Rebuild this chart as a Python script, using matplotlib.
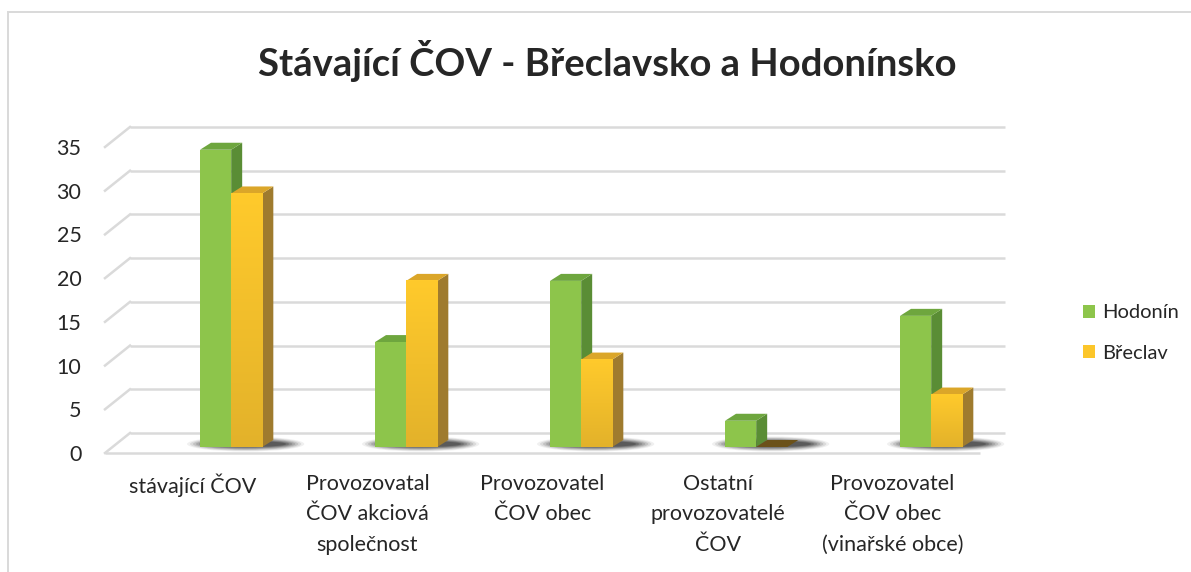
import matplotlib
matplotlib.use("Agg")
import matplotlib.pyplot as plt
import numpy as np
from matplotlib.patches import Polygon, Rectangle, Patch, Ellipse
import matplotlib.transforms as mtransforms

# ---------------- data ----------------
categories = ["stávající ČOV",
              "Provozovatal\nČOV akciová\nspolečnost",
              "Provozovatel\nČOV obec",
              "Ostatní\nprovozovatelé\nČOV",
              "Provozovatel\nČOV obec\n(vinařské obce)"]
series_names = ["Hodonín", "Břeclav"]
hodonin = [34, 12, 19, 3, 15]
breclav = [29, 19, 10, 0, 6]
yticks = [0, 5, 10, 15, 20, 25, 30, 35]
title = "Stávající ČOV - Břeclavsko a Hodonínsko"

# ---------------- style ----------------
FONT = ["Lato", "DejaVu Sans"]
plt.rcParams['font.family'] = FONT
W, H = 1191, 572
DPI = 100
TXT = "#262626"
GRID = "#dadada"
green_front, green_top, green_side = "#8dc54b", "#6ea63e", "#5a8d35"
yel_top_c, yel_bot_c = "#ffca2c", "#e3b22a"
yel_top, yel_side = "#dba629", "#9f7b2e"
zero_brown = "#6b5119"

fig = plt.figure(figsize=(W / DPI, H / DPI), dpi=DPI)
fig.patch.set_facecolor("white")

ax = fig.add_axes([105 / W, (H - 453) / H, 875 / W, 306 / H])
ax.set_facecolor("none")
ax.set_xlim(-0.5, 4.5)
ax.set_ylim(0, 35)
for s in ax.spines.values():
    s.set_visible(False)
ax.set_yticks(yticks)
ax.set_yticklabels([str(v) for v in yticks])
x = np.arange(len(categories))
ax.set_xticks(x)
ax.set_xticklabels(categories, linespacing=1.66)
ax.tick_params(axis='y', length=0, pad=17, labelsize=15.5, labelcolor=TXT)
ax.tick_params(axis='x', length=0, pad=15, labelsize=15.5, labelcolor=TXT)

px = 1.0 / DPI  # inch per pixel
back_off = mtransforms.ScaledTranslation(25 * px, 20 * px, fig.dpi_scale_trans)
bar_off = mtransforms.ScaledTranslation(0, 6 * px, fig.dpi_scale_trans)
DX, DY = 11, 7  # bar depth in pixels


def disp(xv, yv, dx=0.0, dy=0.0):
    p = ax.transData.transform((xv, yv))
    return (p[0] + dx, p[1] + dy)


def add_poly(verts, color, z, alpha=1.0):
    poly = Polygon(verts, closed=True, facecolor=color, edgecolor="none",
                   transform=mtransforms.IdentityTransform(), zorder=z,
                   alpha=alpha, clip_on=False)
    ax.add_artist(poly)


# ---------------- walls / gridlines ----------------
for v in yticks:
    ax.plot([-0.5, 4.5], [v, v], color=GRID, lw=1.8,
            transform=ax.transData + back_off, zorder=1, clip_on=False,
            solid_capstyle='butt')
    a = disp(-0.5, v)
    b = disp(-0.5, v, 25, 20)
    ax.add_artist(plt.Line2D([a[0], b[0]], [a[1], b[1]], color=GRID, lw=1.8,
                             transform=mtransforms.IdentityTransform(),
                             zorder=1, clip_on=False))
ax.plot([-0.5, 4.5], [0, 0], color=GRID, lw=1.8, zorder=1, clip_on=False,
        solid_capstyle='butt')

# ---------------- bars ----------------
bw = 0.178
g_left = x + 0.043
y_left = g_left + bw

# soft shadows on the floor, cast to the right/back
for i in range(len(categories)):
    p0 = disp(g_left[i], 0, 0, 6)
    p1 = disp(y_left[i] + bw, 0, DX, 6)
    wid = p1[0] - p0[0]
    cxm = (p0[0] + p1[0]) / 2 + 9
    for k in range(7):
        e = Ellipse((cxm, p0[1] + 3), wid + 44 - 6 * k, 15 - 1.5 * k,
                    transform=mtransforms.IdentityTransform(),
                    facecolor="black", edgecolor="none", alpha=0.06 + 0.025 * k,
                    zorder=2, clip_on=False)
        ax.add_artist(e)


def draw_box(x0, h, front_color, top_c, side_c, grad=None):
    tr = ax.transData + bar_off
    x1 = x0 + bw
    bl = disp(x0, 0, 0, 6); br = disp(x1, 0, 0, 6)
    tl = disp(x0, h, 0, 6); trr = disp(x1, h, 0, 6)
    if h > 0:
        add_poly([br, trr, (trr[0] + DX, trr[1] + DY), (br[0] + DX, br[1] + DY)], side_c, 3)
        add_poly([tl, trr, (trr[0] + DX, trr[1] + DY), (tl[0] + DX, tl[1] + DY)], top_c, 3)
        if grad is None:
            ax.bar(x0, h, width=bw, align='edge', color=front_color,
                   transform=tr, zorder=4, clip_on=False, linewidth=0)
        else:
            g = np.linspace(0, 1, 64).reshape(-1, 1)
            c0 = np.array(matplotlib.colors.to_rgb(grad[0]))
            c1 = np.array(matplotlib.colors.to_rgb(grad[1]))
            img = c1[None, None, :] * (1 - g[:, :, None]) + c0[None, None, :] * g[:, :, None]
            im = ax.imshow(img, extent=[x0, x1, 0, h], origin='lower',
                           aspect='auto', zorder=4, interpolation='bilinear')
            im.set_transform(tr)
            im.set_clip_on(False)
    else:
        add_poly([tl, trr, (trr[0] + DX, trr[1] + DY), (tl[0] + DX, tl[1] + DY)], zero_brown, 3)


for i in range(len(categories)):
    draw_box(g_left[i], hodonin[i], green_front, green_top, green_side)
    draw_box(y_left[i], breclav[i], None, yel_top, yel_side,
             grad=(yel_top_c, yel_bot_c))

ax.set_xlim(-0.5, 4.5)
ax.set_ylim(0, 35)

# ---------------- title / legend / frame ----------------
fig.text(607 / W, (H - 61) / H, title, ha='center', va='center',
         fontsize=27.5, fontweight='bold', color=TXT, family=FONT)

handles = [Patch(facecolor=green_front, edgecolor='none'),
           Patch(facecolor="#fcc62a", edgecolor='none')]
fig.legend(handles, series_names, loc='center left',
           bbox_to_anchor=(1083 / W, (H - 333) / H), frameon=False,
           fontsize=14.5, handlelength=0.62, handleheight=0.62,
           handletextpad=0.35, labelspacing=1.15, borderpad=0,
           borderaxespad=0, labelcolor=TXT)

fig.add_artist(Rectangle((8 / W, -0.1), 1.2, (H - 12) / H + 0.1,
                         transform=fig.transFigure, fill=False,
                         edgecolor="#d9d9d9", lw=1.4, zorder=0))

fig.savefig("out.png", dpi=DPI, facecolor="white")
